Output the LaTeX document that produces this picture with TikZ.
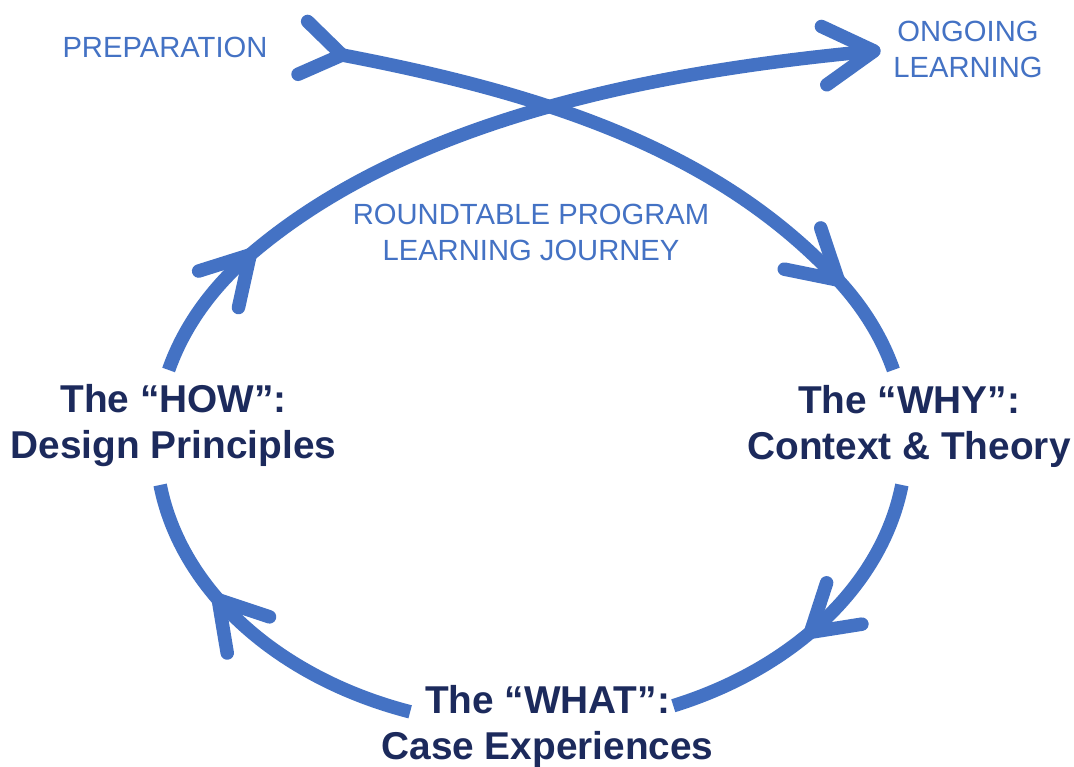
\documentclass[tikz,border=0pt]{standalone}
\usepackage{fontspec}
\setmainfont{Liberation Sans}
\definecolor{flowblue}{HTML}{4472C4}
\definecolor{navy}{HTML}{1C2A5C}
\tikzset{
  flow/.style={draw=flowblue, line width=13.5pt},
  tipline/.style={draw=flowblue, line width=13.5pt, line cap=round, line join=round},
  pics/vtip/.style args={#1/#2}{code={\draw[tipline] (180-#1:#2) -- (0,0) -- (180+#1:#2);}},
  bluelabel/.style={text=flowblue, font=\fontsize{29.2}{36}\selectfont, align=center, inner sep=0pt},
  darklabel/.style={text=navy, font=\bfseries\fontsize{38.8}{46}\selectfont, align=center, inner sep=0pt},
  ell/.style={x radius=375pt, y radius=284pt}
}
\begin{document}
\begin{tikzpicture}[x=1pt,y=1pt]
\fill[white] (0,0) rectangle (1074,767);
\useasboundingbox (0,0) rectangle (1074,767);

% labels
\node[bluelabel, anchor=base] (prep) at (165,709) {PREPARATION};
\node[bluelabel] (ongoing) at (968,718) {ONGOING\\LEARNING};
\node[bluelabel] (journey) at (531,534.5) {ROUNDTABLE PROGRAM\\LEARNING JOURNEY};
\node[darklabel] (how) at (173.5,341) {The “HOW”:\\Design Principles};
\node[darklabel] (why) at (909,341) {The “WHY”:\\Context \& Theory};
\node[darklabel] (what) at (547.5,41) {The “WHAT”:\\Case Experiences};

% key points
\coordinate (p1) at (342,712);
\coordinate (p2) at ({531+375*cos(35)},{324+284*sin(35)});
\coordinate (r2) at ({531+375*cos(-8.5)},{324+284*sin(-8.5)});
\coordinate (p3) at ({531+375*cos(-41.8)},{324+284*sin(-41.8)});
\coordinate (w2) at ({531+375*cos(-108.8)},{324+284*sin(-108.8)});
\coordinate (p4) at ({531+375*cos(-146.5)},{324+284*sin(-146.5)});
\coordinate (h2) at ({531+375*cos(165.1)},{324+284*sin(165.1)});
\coordinate (p5) at ({531+375*cos(138.5)},{324+284*sin(138.5)});
\coordinate (p6) at (874,716);

% connectors
\draw[flow] (p1) .. controls (539.8,674.2) and (715.7,619.1) .. (p2);
\draw[flow] (p2) arc[start angle=35, end angle=14.9, ell] coordinate (r1);
\draw[flow] (r2) arc[start angle=-8.5, end angle=-67.7, ell] coordinate (w1);
\draw[flow] (w2) arc[start angle=-108.8, end angle=-171.5, ell] coordinate (h1);
\draw[flow] (h2) arc[start angle=165.1, end angle=138.5, ell];
\draw[flow] (p5) .. controls (409.5,648.7) and (655,695.7) .. (p6);

% arrow heads
\pic[rotate=-10.3] at (p1) {vtip=34/48};
\pic[rotate=-41.5] at (p2) {vtip=30/55};
\pic[rotate=-139.5] at (p3) {vtip=31.5/52};
\pic[rotate=130.5] at (p4) {vtip=31/54};
\pic[rotate=47.5] at (p5) {vtip=30/54};
\pic[rotate=5.3] at (p6) {vtip=30.3/58};
\end{tikzpicture}
\end{document}
